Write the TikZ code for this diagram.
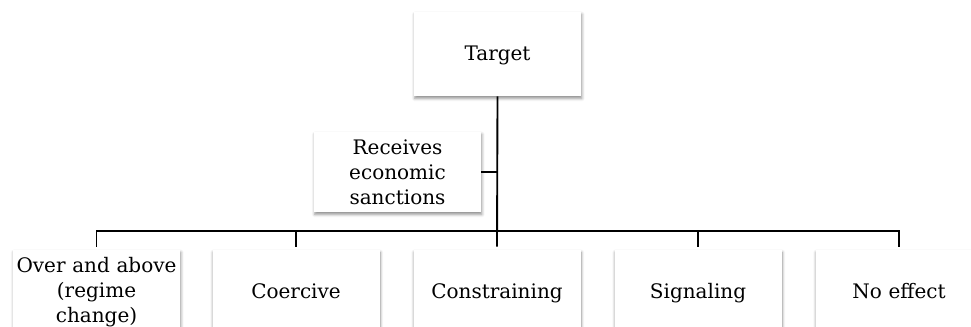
\documentclass[tikz,border=0pt]{standalone}
\usepackage{fontspec}
\setmainfont{DejaVu Serif}
\usetikzlibrary{shadows.blur}

\tikzset{
  box/.style={fill=white, minimum width=125.25pt, minimum height=63pt,
    inner sep=1pt, text width=123pt, align=center,
    font=\fontsize{15}{18.75}\selectfont,
    blur shadow={shadow xshift=0.6pt, shadow yshift=-1.8pt,
      shadow blur radius=2.2pt, shadow opacity=45}},
  oneline/.style={text height=1.15em, text depth=0.2em},
  link/.style={line width=1.4pt}
}

\begin{document}
\begin{tikzpicture}[x=0.75pt, y=0.75pt]
  \clip (0,0) rectangle (971,326);

  % Target and sanctions
  \node[box, oneline] (target) at (497.5,272) {Target};
  \node[box, minimum height=60pt] (sanction) at (397.5,154) {Receives\\economic\\sanctions};

  % Effect boxes
  \node[box] (over) at (96.5,34) {Over and above\\(regime\\change)};
  \node[box, oneline] (coerce) at (296,34) {Coercive};
  \node[box, oneline] (constrain) at (497,34) {Constraining};
  \node[box, oneline] (signal) at (698,34) {Signaling};
  \node[box, oneline] (noeffect) at (899,34) {No effect};

  % Connectors
  \coordinate (bus) at (497,95);
  \draw[link, shorten >=2.25pt] (target.south) -- (constrain.north);
  \draw[link] (sanction.east) -- (sanction.east -| target.south);
  \draw[link, shorten <=2.25pt, shorten >=2.25pt] (over.north) |- (bus) -| (noeffect.north);
  \draw[link, shorten <=2.25pt] (coerce.north) -- (coerce.north |- bus);
  \draw[link, shorten <=2.25pt] (signal.north) -- (signal.north |- bus);
\end{tikzpicture}
\end{document}
